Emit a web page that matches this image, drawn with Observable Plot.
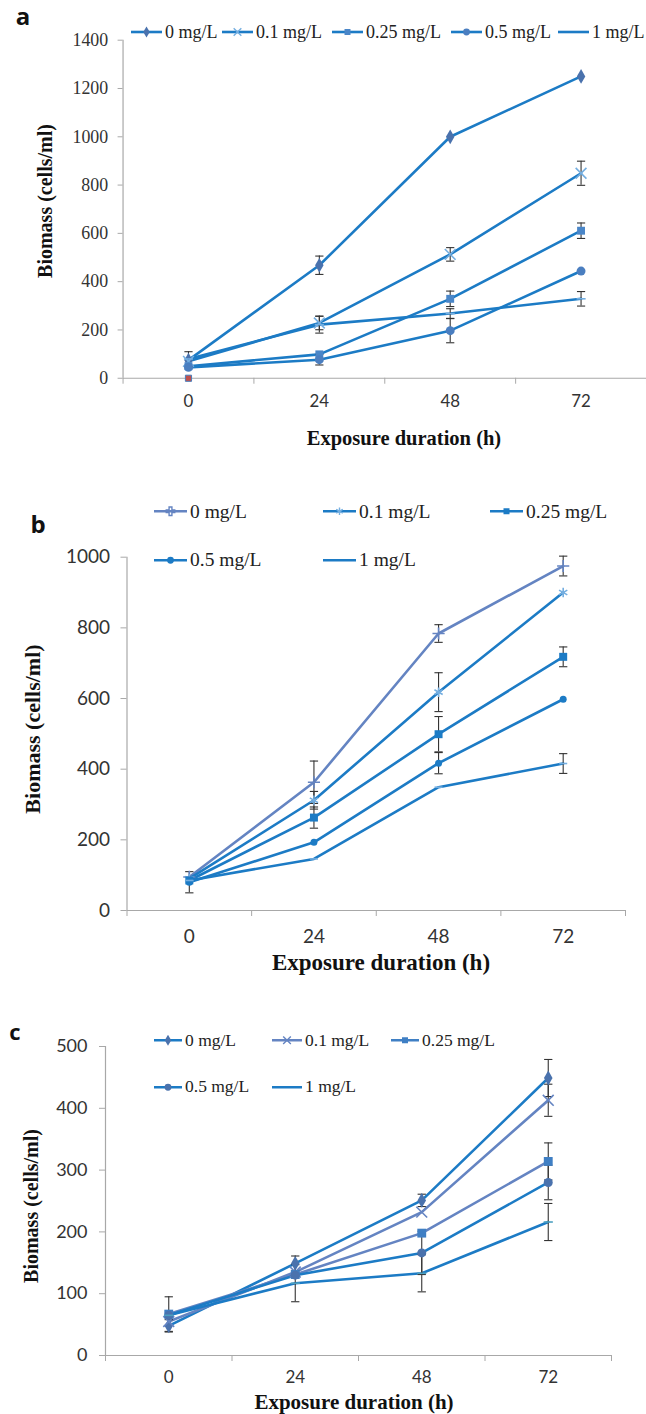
<!DOCTYPE html>
<html><head><meta charset="utf-8">
<script src="https://cdn.jsdelivr.net/npm/d3@7"></script>
<script src="https://cdn.jsdelivr.net/npm/@observablehq/plot@0.6"></script>
<style>
body{margin:0;background:#fff;}
#root{position:relative;width:646px;height:1414px;overflow:hidden;background:#fff;}
.abs{position:absolute;white-space:nowrap;line-height:1;}
.letter{font-family:"Open Sans",Lato,sans-serif;font-weight:bold;color:#111;}
.title{font-family:"Liberation Serif",serif;font-weight:bold;color:#111;}
.leg{font-family:"Liberation Serif",serif;color:#222;display:flex;align-items:center;}
svg.serifY g[aria-label="y-axis tick label"]{font-family:"Liberation Serif",serif;}
svg g[aria-label="x-axis tick label"]{font-family:Lato,sans-serif;}
svg.sansY g[aria-label="y-axis tick label"]{font-family:Lato,sans-serif;}
</style></head><body><div id="root"></div>
<script>
// ---------- data ----------
const hours = [0, 24, 48, 72];
const seriesNames = ["0 mg/L", "0.1 mg/L", "0.25 mg/L", "0.5 mg/L", "1 mg/L"];

// panel a
const aMean0   = [75, 468, 1000, 1250];  const aErr0   = [0, 38, 0, 0];
const aMean01  = [70, 229, 513, 849];    const aErr01  = [0, 28, 28, 50];
const aMean025 = [50, 99, 329, 611];     const aErr025 = [0, 0, 32, 32];
const aMean05  = [45, 77, 197, 444];     const aErr05  = [0, 22, 50, 0];
const aMean1   = [80, 222, 268, 329];    const aErr1   = [30, 35, 20, 30];
const aStrayHour = [0]; const aStrayValue = [0];
const aYTicks = [0, 200, 400, 600, 800, 1000, 1200, 1400];

// panel b
const bMean0   = [95, 363, 784, 975];    const bErr0   = [0, 60, 25, 28];
const bMean01  = [90, 312, 618, 900];    const bErr01  = [0, 25, 55, 0];
const bMean025 = [85, 263, 499, 718];    const bErr025 = [0, 30, 50, 28];
const bMean05  = [80, 193, 417, 598];    const bErr05  = [30, 0, 30, 0];
const bMean1   = [85, 146, 349, 416];    const bErr1   = [0, 0, 0, 28];
const bYTicks = [0, 200, 400, 600, 800, 1000];

// panel c
const cMean0   = [48, 149, 251, 449];    const cErr0   = [10, 12, 10, 30];
const cMean01  = [55, 135, 232, 413];    const cErr01  = [0, 0, 0, 26];
const cMean025 = [67, 131, 198, 314];    const cErr025 = [28, 0, 0, 30];
const cMean05  = [65, 130, 166, 280];    const cErr05  = [0, 0, 35, 28];
const cMean1   = [65, 117, 133, 216];    const cErr1   = [0, 30, 30, 30];
const cYTicks = [0, 100, 200, 300, 400, 500];

const bandEdges = [-12, 12, 36, 60, 84];

// ---------- styles ----------
const BLUE = "#1c7bc5";
const GREYBLUE = "#6484c2";
const MARK = "#4a72ad";
const LIGHT = "#74aee0";
const AXIS = "#a8a8a8";
const dash = {draw(ctx, size){ const r = Math.sqrt(size/Math.PI)*1.15; ctx.moveTo(-r,0); ctx.lineTo(r,0); }};

const root = document.getElementById("root");

function rows(means, errs){ return hours.map((h,i)=>({hour:h, value:means[i], err:errs[i]})); }

function panel(cfg){
  const marks = [
    Plot.ruleY([0], {stroke: AXIS, strokeWidth: 1.2}),
    Plot.ruleX([-12], {stroke: AXIS, strokeWidth: 1.2}),
    Plot.axisX(bandEdges, {tickSize: 6, tickFormat: () => "", stroke: AXIS, label: null}),
    Plot.axisX(hours, {tickSize: 0, tickPadding: cfg.xPad, fontSize: cfg.xFont, fill: "#333", tickFormat: d => String(d), label: null}),
    Plot.axisY(cfg.yTicks, {tickSize: cfg.yTickSize, tickPadding: cfg.yPad, stroke: AXIS, fontSize: cfg.yFont, fill: "#333", tickFormat: d => String(d), label: null})
  ];
  for (const s of cfg.series){
    marks.push(Plot.line(s.data, {x: "hour", y: "value", stroke: s.line, strokeWidth: 2.6, strokeLinejoin: "round"}));
  }
  for (const s of cfg.series){
    const e = s.data.filter(d => d.err > 0);
    marks.push(Plot.ruleX(e, {x: "hour", y1: d => d.value - d.err, y2: d => d.value + d.err, stroke: "#333", strokeWidth: 1.1}));
    marks.push(Plot.dot(e, {x: "hour", y: d => d.value - d.err, symbol: dash, r: 3.6, fill: "none", stroke: "#333", strokeWidth: 1.1}));
    marks.push(Plot.dot(e, {x: "hour", y: d => d.value + d.err, symbol: dash, r: 3.6, fill: "none", stroke: "#333", strokeWidth: 1.1}));
  }
  for (const s of cfg.series){
    const stroked = s.symbol === "times" || s.symbol === "plus" || s.symbol === "asterisk" || s.symbol === dash;
    marks.push(Plot.dot(s.data, {x: "hour", y: "value", symbol: s.symbol, r: s.r,
      fill: stroked ? "none" : s.mark, stroke: stroked ? s.mark : "none", strokeWidth: stroked ? 1.6 : 0}));
  }
  if (cfg.extra) marks.push(...cfg.extra);
  const svg = Plot.plot({
    width: cfg.width, height: cfg.height,
    marginTop: cfg.marginTop, marginBottom: cfg.marginBottom,
    marginLeft: cfg.marginLeft, marginRight: cfg.marginRight,
    x: {domain: [-12, 84], label: null},
    y: {domain: cfg.yDomain, label: null},
    className: cfg.cls,
    style: {background: "transparent", overflow: "visible"},
    marks
  });
  svg.classList.add(cfg.yClass);
  svg.style.position = "absolute";
  svg.style.left = "0px";
  svg.style.top = cfg.top + "px";
  root.appendChild(svg);
}

function text(str, cls, x, y, size, rotate){
  const d = document.createElement("div");
  d.className = "abs " + cls;
  d.textContent = str;
  d.style.left = x + "px"; d.style.top = y + "px";
  d.style.fontSize = size + "px";
  d.style.transform = "translate(-50%,-50%)" + (rotate ? " rotate(-90deg)" : "");
  root.appendChild(d);
}

function legendItem(label, x, y, lineW, color, symbolName, mcolor, size){
  const d = document.createElement("div");
  d.className = "abs leg";
  d.style.left = x + "px"; d.style.top = y + "px";
  d.style.transform = "translateY(-50%)";
  d.style.fontSize = size + "px";
  const svg = d3.create("svg").attr("width", lineW + 2).attr("height", 12).style("display","block");
  svg.append("line").attr("x1",0).attr("x2",lineW).attr("y1",6).attr("y2",6).attr("stroke",color).attr("stroke-width",2.6);
  if (symbolName){
    const map = {diamond: d3.symbolDiamond, times: d3.symbolTimes, square: d3.symbolSquare, circle: d3.symbolCircle, plus: d3.symbolCross, asterisk: d3.symbolAsterisk};
    const stroked = symbolName === "times" || symbolName === "asterisk" || symbolName === "plus";
    svg.append("path").attr("d", d3.symbol(map[symbolName], stroked ? 40 : 36)())
      .attr("transform", `translate(${lineW/2},6)`)
      .attr("fill", stroked ? "none" : mcolor).attr("stroke", stroked ? mcolor : "none").attr("stroke-width", 1.4);
  }
  d.appendChild(svg.node());
  const t = document.createElement("span");
  t.textContent = label; t.style.marginLeft = "1px";
  d.appendChild(t);
  root.appendChild(d);
}

// ---------- panel a ----------
panel({
  top: 0, width: 651, height: 420, marginTop: 40, marginBottom: 39.3, marginLeft: 123.5, marginRight: 0,
  yDomain: [0, 1400], yTicks: aYTicks, yTickSize: 5, yPad: 10, yFont: 18, yClass: "serifY",
  xPad: 17, xFont: 17,
  series: [
    {data: rows(aMean0, aErr0), line: BLUE, mark: MARK, symbol: "diamond", r: 4.5},
    {data: rows(aMean01, aErr01), line: BLUE, mark: LIGHT, symbol: "times", r: 5},
    {data: rows(aMean025, aErr025), line: BLUE, mark: "#4a86c8", symbol: "square", r: 4.5},
    {data: rows(aMean05, aErr05), line: BLUE, mark: "#4a7ec0", symbol: "circle", r: 4.5},
    {data: rows(aMean1, aErr1), line: BLUE, mark: LIGHT, symbol: dash, r: 4}
  ],
  extra: [Plot.dot(aStrayHour.map((h,i)=>({hour:h, value:aStrayValue[i]})), {x:"hour", y:"value", symbol:"square", r:3.5, fill:"#c0504d", stroke:"#4a7ebb", strokeWidth:1})]
});
text("a", "letter", 23, 16, 24);
text("Biomass (cells/ml)", "title", 45, 201, 20, true);
text("Exposure duration (h)", "title", 404, 438, 20.5);
[[131,164],[222,252],[332,361],[451,482],[558,593]].forEach(([lx],i)=>{
  const syms = ["diamond","times","square","circle",null];
  const mcol = [MARK, LIGHT, "#4a86c8", "#4a7ec0", BLUE];
  legendItem(seriesNames[i], lx, 32, 31, BLUE, syms[i], mcol[i], 18);
});

// ---------- panel b ----------
panel({
  top: 480, width: 646, height: 480, marginTop: 76.7, marginBottom: 50, marginLeft: 126.5, marginRight: 21,
  yDomain: [0, 1000], yTicks: bYTicks, yTickSize: 6, yPad: 11, yFont: 19, yClass: "sansY",
  xPad: 19, xFont: 19,
  series: [
    {data: rows(bMean0, bErr0), line: GREYBLUE, mark: GREYBLUE, symbol: "plus", r: 4},
    {data: rows(bMean01, bErr01), line: BLUE, mark: LIGHT, symbol: "asterisk", r: 4.5},
    {data: rows(bMean025, bErr025), line: BLUE, mark: BLUE, symbol: "square", r: 4.5},
    {data: rows(bMean05, bErr05), line: BLUE, mark: BLUE, symbol: "circle", r: 3.5},
    {data: rows(bMean1, bErr1), line: BLUE, mark: LIGHT, symbol: dash, r: 3.5}
  ]
});
text("b", "letter", 38, 524, 24);
text("Biomass (cells/ml)", "title", 33, 729, 22, true);
text("Exposure duration (h)", "title", 381, 962, 23);
legendItem(seriesNames[0], 154, 511.7, 33, GREYBLUE, "plus", GREYBLUE, 19.5);
legendItem(seriesNames[1], 323, 511.7, 33, BLUE, "asterisk", LIGHT, 19.5);
legendItem(seriesNames[2], 490, 511.7, 33, BLUE, "square", BLUE, 19.5);
legendItem(seriesNames[3], 154, 560, 33, BLUE, "circle", BLUE, 19.5);
legendItem(seriesNames[4], 323, 560, 33, BLUE, null, BLUE, 19.5);

// ---------- panel c ----------
panel({
  top: 1000, width: 646, height: 414, marginTop: 46, marginBottom: 59, marginLeft: 105, marginRight: 35,
  yDomain: [0, 500], yTicks: cYTicks, yTickSize: 6, yPad: 12, yFont: 18, yClass: "sansY",
  xPad: 15.5, xFont: 17,
  series: [
    {data: rows(cMean0, cErr0), line: BLUE, mark: MARK, symbol: "diamond", r: 4.5},
    {data: rows(cMean01, cErr01), line: GREYBLUE, mark: GREYBLUE, symbol: "times", r: 5},
    {data: rows(cMean025, cErr025), line: GREYBLUE, mark: "#3f7fc4", symbol: "square", r: 5},
    {data: rows(cMean05, cErr05), line: BLUE, mark: MARK, symbol: "circle", r: 4.5},
    {data: rows(cMean1, cErr1), line: BLUE, mark: "#4ea0c0", symbol: dash, r: 4}
  ]
});
text("c", "letter", 15, 1031, 22);
text("Biomass (cells/ml)", "title", 31, 1206, 20, true);
text("Exposure duration (h)", "title", 354, 1401.7, 21);
legendItem(seriesNames[0], 154, 1040.7, 28, BLUE, "diamond", MARK, 17.5);
legendItem(seriesNames[1], 272, 1040.7, 30, GREYBLUE, "times", GREYBLUE, 17.5);
legendItem(seriesNames[2], 391, 1040.7, 28, "#3f7fc4", "square", "#3f7fc4", 17.5);
legendItem(seriesNames[3], 154, 1087, 28, BLUE, "circle", MARK, 17.5);
legendItem(seriesNames[4], 272, 1087, 30, BLUE, null, BLUE, 17.5);
</script></body></html>
